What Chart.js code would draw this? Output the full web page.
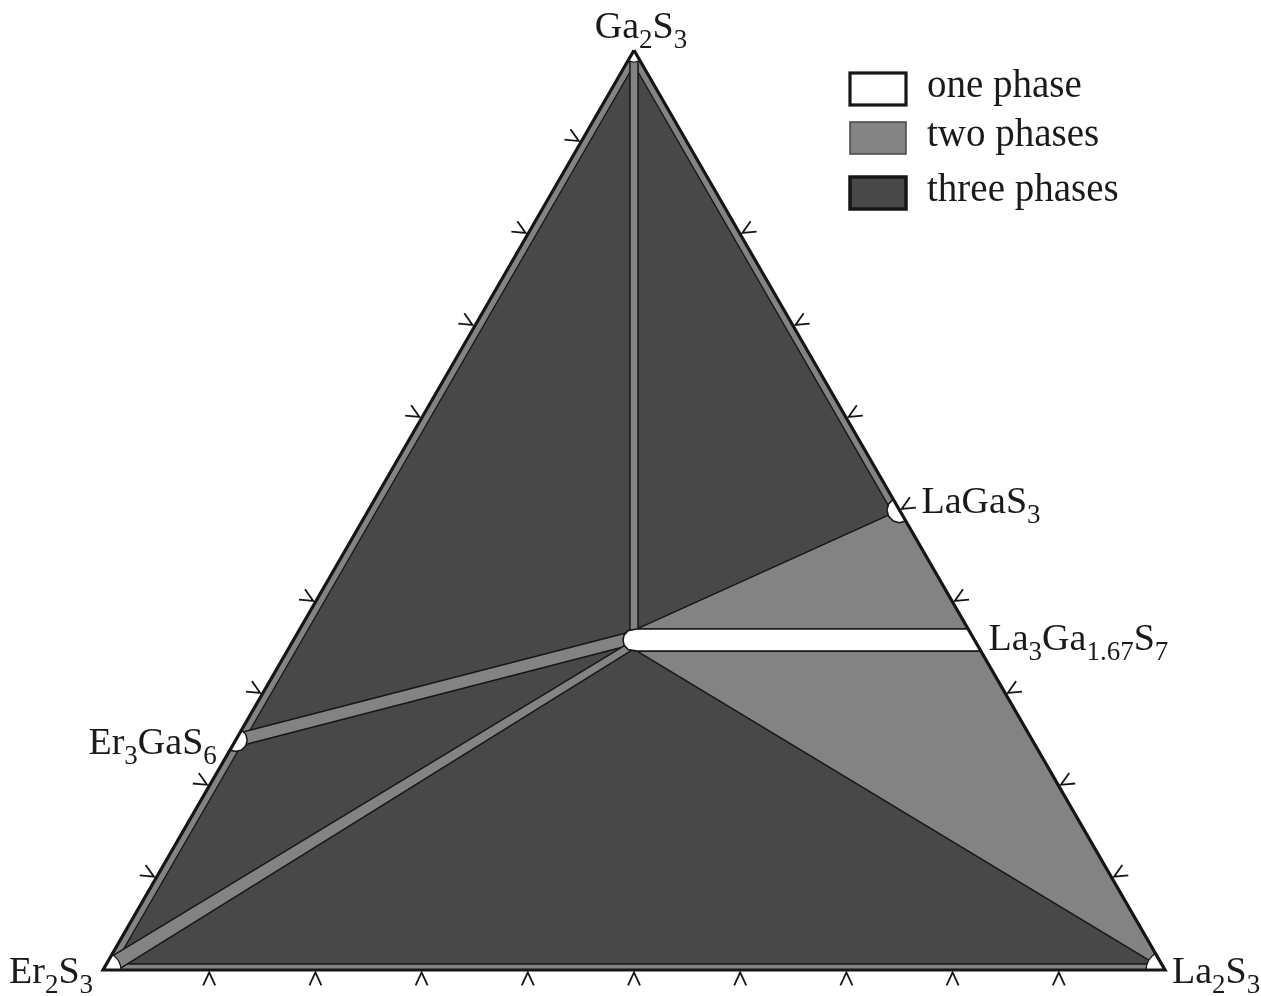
<!DOCTYPE html>
<html>
<head>
<meta charset="utf-8">
<script src="https://cdn.jsdelivr.net/npm/chart.js@4.4.0/dist/chart.umd.min.js"></script>
<style>
  html, body { margin: 0; padding: 0; background: #fff; }
  canvas { display: block; }
</style>
</head>
<body>
<canvas id="diagram" width="1261" height="996"></canvas>
<script>
// compositions are mole fractions [Ga2S3, La2S3]; Er2S3 is the remainder
const triangle = [[1, 0], [0, 0], [0, 1]];

// thin two-phase bands along the binary edges
const edgeBandLeft = [[1, 0], [0, 0], [0.0065, 0.008], [0.984, 0.008]];
const edgeBandBottom = [[0, 0], [0, 1], [0.0065, 0.9935], [0.0065, 0.008]];
const edgeBandRight = [[1, 0], [0.5, 0.5], [0.5, 0.492], [0.984, 0.008]];

// two-phase fields
const fieldLaGaS3 = [[0.3707, 0.317], [0.5, 0.5], [0.3707, 0.6293]];
const fieldLa2S3 = [[0.3467, 0.3295], [0.3467, 0.6533], [0, 1]];
const bandGa2S3 = [[0.99, 0.0012], [0.365, 0.3137], [0.365, 0.3213], [0.99, 0.0088]];
const bandEr3GaS6 = [[0.258, 0], [0.3674, 0.3125], [0.3522, 0.3173], [0.241, 0]];
const bandEr2S3 = [[0.014, 0], [0.3543, 0.3162], [0.3478, 0.3242], [0, 0.014]];

// one-phase fields
const solidSolution = [[0.3707, 0.317], [0.3707, 0.6293], [0.3467, 0.6533], [0.3467, 0.3295],
  [0.3484, 0.3202], [0.3533, 0.314], [0.3587, 0.3103], [0.3641, 0.3086], [0.369, 0.3099]];
const phaseLaGaS3 = [[0.5118, 0.4882], [0.5068, 0.4864], [0.5, 0.4882], [0.4932, 0.4932],
  [0.4882, 0.5], [0.4864, 0.5068], [0.4882, 0.5118]];
const phaseEr3GaS6 = [[0.2608, 0], [0.2563, 0.0063], [0.25, 0.0108], [0.2438, 0.0125],
  [0.2392, 0.0108], [0.2375, 0.0063], [0.2392, 0]];
const phaseGa2S3 = [[1, 0], [0.9887, 0], [0.987, 0.0065], [0.9887, 0.0113]];
const phaseEr2S3 = [[0, 0], [0, 0.017], [0.0051, 0.0138], [0.0098, 0.0098], [0.0138, 0.0051], [0.017, 0]];
const phaseLa2S3 = [[0, 1], [0, 0.9821], [0.0054, 0.9801], [0.0103, 0.9794], [0.0146, 0.9801], [0.0179, 0.9821]];

// tick marks (mol fraction along each side)
const bottomTicks = [0.1, 0.2, 0.3, 0.4, 0.5, 0.6, 0.7, 0.8, 0.9];   // La2S3 on Er2S3-La2S3
const leftTicks = [0.1, 0.2, 0.3, 0.4, 0.6, 0.7, 0.8, 0.9];          // Ga2S3 on Er2S3-Ga2S3
const rightTicks = [0.1, 0.2, 0.3, 0.4, 0.5, 0.6, 0.7, 0.8];         // Ga2S3 on La2S3-Ga2S3

// compound labels and where they sit
const labelNames = ['Ga2S3', 'Er2S3', 'La2S3', 'LaGaS3', 'La3Ga1.67S7', 'Er3GaS6'];
const labelAt = [[1, 0], [0, 0], [0, 1], [0.5, 0.5], [0.3587, 0.6413], [0.25, 0]];

const legendNames = ['one phase', 'two phases', 'three phases'];

const H = Math.sqrt(3) / 2;
const DARK = '#484848', GREY = '#838383', INK = '#161616';

function toXY(c) {
  return { x: c[1] + c[0] / 2, y: c[0] * H };
}

function region(points, fill, width) {
  return {
    data: points.concat([points[0]]).map(toXY),
    backgroundColor: fill,
    borderColor: width > 0 ? INK : 'rgba(0,0,0,0)',
    borderWidth: width > 0 ? width : 1,
    fill: fill ? 'shape' : false,
    pointRadius: 0,
    pointHitRadius: 0,
    tension: 0,
    borderJoinStyle: 'round'
  };
}

const layers = [
  region(triangle, DARK, 0),
  region(edgeBandLeft, GREY, 1.4),
  region(edgeBandBottom, GREY, 1.4),
  region(edgeBandRight, GREY, 1.4),
  region(fieldLaGaS3, GREY, 1.5),
  region(fieldLa2S3, GREY, 1.5),
  region(bandGa2S3, GREY, 1.5),
  region(bandEr3GaS6, GREY, 1.5),
  region(bandEr2S3, GREY, 1.5),
  region(solidSolution, '#ffffff', 1.6),
  region(phaseLaGaS3, '#ffffff', 1.5),
  region(phaseEr3GaS6, '#ffffff', 1.5),
  region(phaseGa2S3, '#ffffff', 1.2),
  region(phaseEr2S3, '#ffffff', 1.2),
  region(phaseLa2S3, '#ffffff', 1.2),
  Object.assign(region(triangle, null, 3.2), { borderJoinStyle: 'miter' })
];
layers.forEach((d, i) => { d.order = layers.length - i; });

const mainFont = '38px "Liberation Serif", "Times New Roman", serif';
const subFont = '27px "Liberation Serif", "Times New Roman", serif';
const legendFont = '39px "Liberation Serif", "Times New Roman", serif';

function drawFormula(ctx, text, x, y, align) {
  const parts = text.match(/[A-Za-z]+|[\d.]+/g);
  let w = 0;
  parts.forEach(p => {
    ctx.font = /^[\d.]/.test(p) ? subFont : mainFont;
    w += ctx.measureText(p).width;
  });
  let cx = align === 'right' ? x - w : align === 'center' ? x - w / 2 : x;
  parts.forEach(p => {
    const sub = /^[\d.]/.test(p);
    ctx.font = sub ? subFont : mainFont;
    ctx.fillText(p, cx, sub ? y + 10 : y);
    cx += ctx.measureText(p).width;
  });
}

// pixel offsets of each label from its anchor
const labelLayout = [
  { dx: 7, dy: -12, align: 'center' },
  { dx: -10, dy: 13, align: 'right' },
  { dx: 7, dy: 13, align: 'left' },
  { dx: 22, dy: 3, align: 'left' },
  { dx: 14, dy: 10, align: 'left' },
  { dx: -19, dy: 14, align: 'right' }
];

const decorations = {
  id: 'decorations',
  afterDraw(chart) {
    const ctx = chart.ctx;
    const sx = chart.scales.x, sy = chart.scales.y;
    const px = c => { const p = toXY(c); return [sx.getPixelForValue(p.x), sy.getPixelForValue(p.y)]; };

    // chevron ticks on the three sides
    const sides = [
      { ticks: bottomTicks, at: f => [0, f], n: [0, 1], t: [1, 0] },
      { ticks: leftTicks, at: f => [f, 0], n: [-H, -0.5], t: [0.5, -H] },
      { ticks: rightTicks, at: f => [f, 1 - f], n: [H, -0.5], t: [0.5, H] }
    ];
    ctx.save();
    ctx.strokeStyle = INK;
    ctx.lineWidth = 1.8;
    ctx.lineJoin = 'miter';
    sides.forEach(s => {
      s.ticks.forEach(f => {
        const [x0, y0] = px(s.at(f));
        const ax = x0 + 2.5 * s.n[0], ay = y0 + 2.5 * s.n[1];
        ctx.beginPath();
        ctx.moveTo(ax + 13 * s.n[0] - 6 * s.t[0], ay + 13 * s.n[1] - 6 * s.t[1]);
        ctx.lineTo(ax, ay);
        ctx.lineTo(ax + 13 * s.n[0] + 6 * s.t[0], ay + 13 * s.n[1] + 6 * s.t[1]);
        ctx.stroke();
      });
    });

    // compound labels
    ctx.fillStyle = '#1a1a1a';
    ctx.textBaseline = 'alphabetic';
    labelNames.forEach((name, i) => {
      const [x0, y0] = px(labelAt[i]);
      const l = labelLayout[i];
      drawFormula(ctx, name, x0 + l.dx, y0 + l.dy, l.align);
    });

    // legend
    const boxes = [
      { y: 73, fill: '#ffffff', stroke: INK, w: 3.2 },
      { y: 122, fill: GREY, stroke: '#444', w: 1.5 },
      { y: 177, fill: DARK, stroke: INK, w: 3.5 }
    ];
    legendNames.forEach((name, i) => {
      const b = boxes[i];
      ctx.fillStyle = b.fill;
      ctx.fillRect(850, b.y, 56, 32);
      ctx.strokeStyle = b.stroke;
      ctx.lineWidth = b.w;
      ctx.strokeRect(850, b.y, 56, 32);
      ctx.fillStyle = '#1a1a1a';
      ctx.font = legendFont;
      ctx.fillText(name, 927, b.y + 24);
    });
    ctx.restore();
  }
};

new Chart(document.getElementById('diagram').getContext('2d'), {
  type: 'line',
  data: { datasets: layers },
  options: {
    responsive: false,
    animation: false,
    events: [],
    layout: { padding: 0 },
    plugins: {
      legend: { display: false },
      tooltip: { enabled: false }
    },
    scales: {
      x: { type: 'linear', min: -0.097, max: 1.0904, display: false },
      y: { type: 'linear', min: -0.0245, max: 0.9134, display: false }
    }
  },
  plugins: [decorations]
});
</script>
</body>
</html>
